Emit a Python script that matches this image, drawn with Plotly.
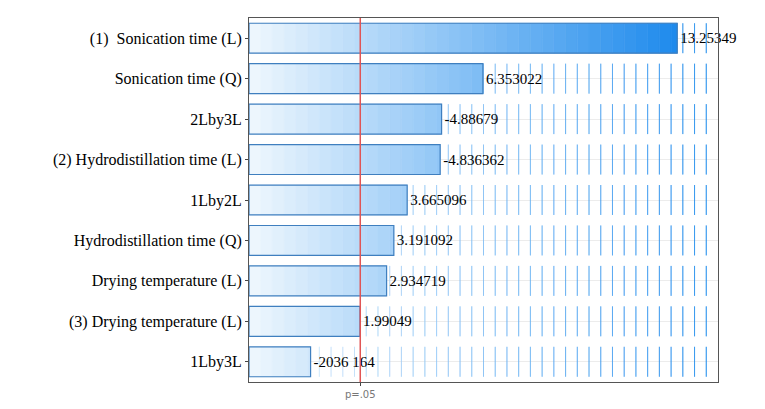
import plotly.graph_objects as go

effects = ["(1)  Sonication time (L)", "Sonication time (Q)", "2Lby3L",
           "(2) Hydrodistillation time (L)", "1Lby2L", "Hydrodistillation time (Q)",
           "Drying temperature (L)", "(3) Drying temperature (L)", "1Lby3L"]
values = [13.25349, 6.353022, 4.88679, 4.836362, 3.665096, 3.191092, 2.934719, 1.99049, 0.236164]
labels = ["13.25349", "6.353022", "-4.88679", "-4.836362", "3.665096", "3.191092",
          "2.934719", "1.99049", "-2036 164"]
p_line = 2.0
x_lo, x_hi = -1.95, 14.7

N = 40
c0, c1 = (240, 248, 254), (10, 128, 235)
fig = go.Figure()
step = (x_hi - x_lo) / N
for k in range(N):
    a, b = x_lo + k * step, x_lo + (k + 1) * step
    t = (k + 0.5) / N
    col = "rgb(%d,%d,%d)" % tuple(int(c0[i] + (c1[i] - c0[i]) * t) for i in range(3))
    widths = [max(0.0, min(v, b) - a) for v in values]
    fig.add_trace(go.Bar(y=effects, x=widths, base=a, orientation="h", width=0.74,
                         marker=dict(color=col, line=dict(color=col, width=0.6)),
                         hoverinfo="skip", showlegend=False))
# outlines + labels
fig.add_trace(go.Bar(y=effects, x=[v - x_lo for v in values], base=x_lo, orientation="h",
                     width=0.74, marker=dict(color="rgba(0,0,0,0)",
                                             line=dict(color="#3f7fbf", width=1.2)),
                     text=labels, textposition="outside", cliponaxis=False,
                     textfont=dict(family="Liberation Serif", size=15, color="black"),
                     showlegend=False))
fig.add_vline(x=p_line, line_color="#e05555", line_width=1.5)

fig.update_layout(
    barmode="overlay", width=765, height=409, plot_bgcolor="white", paper_bgcolor="white",
    margin=dict(l=241, r=55, t=10, b=35),
    font=dict(family="Liberation Serif", size=16, color="black"),
    xaxis=dict(range=[x_lo, x_hi], tickvals=[p_line], ticktext=["p=.05"],
               tickfont=dict(family="DejaVu Sans", size=10, color="#777"),
               showgrid=False, zeroline=False, showline=True, linecolor="#555", mirror=True,
               ticks="outside", ticklen=3),
    yaxis=dict(autorange="reversed", showgrid=True, gridcolor="#ececec", showline=True,
               linecolor="#555", mirror=True, ticks="outside", ticklen=3),
)
fig.write_html("out.html")
